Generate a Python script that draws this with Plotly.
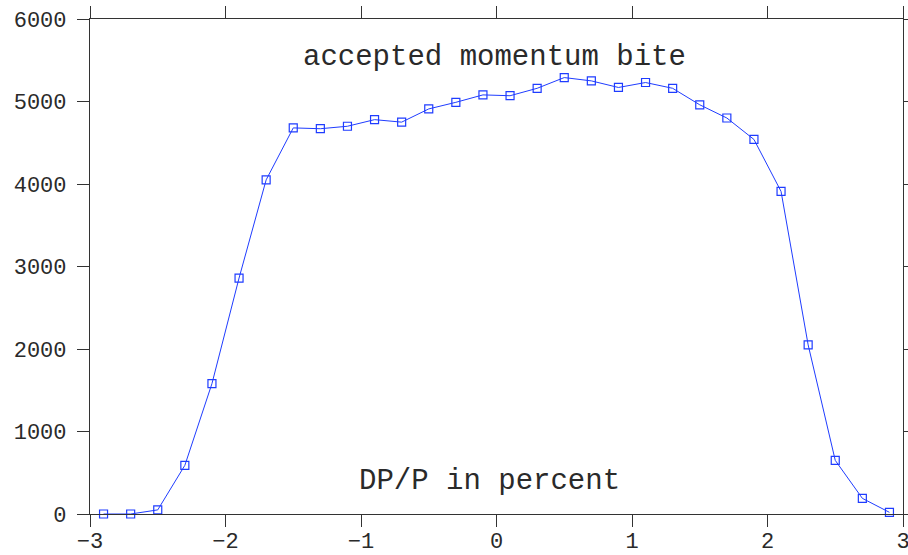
import plotly.graph_objects as go

# Momentum offset bins (DP/P, percent) and accepted counts per bin
dp_percent = [-2.9, -2.7, -2.5, -2.3, -2.1, -1.9, -1.7, -1.5, -1.3, -1.1,
              -0.9, -0.7, -0.5, -0.3, -0.1, 0.1, 0.3, 0.5, 0.7, 0.9,
              1.1, 1.3, 1.5, 1.7, 1.9, 2.1, 2.3, 2.5, 2.7, 2.9]
accepted = [0, 0, 50, 590, 1580, 2860, 4050, 4680, 4670, 4700,
            4780, 4750, 4910, 4990, 5080, 5070, 5160, 5290, 5250, 5170,
            5230, 5160, 4960, 4800, 4540, 3910, 2050, 650, 190, 20]

x_ticks = [-3, -2, -1, 0, 1, 2, 3]
y_ticks = [0, 1000, 2000, 3000, 4000, 5000, 6000]

TEXT_FONT = "Liberation Mono"
TEXT_COLOR = "#2a2a2a"
AXIS_COLOR = "#333333"

fig = go.Figure()
fig.add_trace(go.Scatter(
    x=dp_percent, y=accepted,
    mode="lines+markers",
    line=dict(color="#1f3cff", width=1),
    marker=dict(symbol="square-open", size=8, color="#1f3cff",
                line=dict(width=1.2, color="#1f3cff")),
    showlegend=False,
    cliponaxis=False,
))

axis_common = dict(
    showline=True, linecolor=AXIS_COLOR, linewidth=1.2,
    mirror="allticks", ticks="outside", ticklen=12, tickwidth=1.2,
    tickcolor=AXIS_COLOR, showgrid=False, zeroline=False,
    automargin=False, ticklabeloverflow="allow",
    tickfont=dict(family=TEXT_FONT, size=22, color=TEXT_COLOR),
)

fig.update_xaxes(range=[-3, 3], tickvals=x_ticks,
                 ticktext=[str(v).replace("-", "\u2212") for v in x_ticks],
                 ticklabelstandoff=-6, **axis_common)
fig.update_yaxes(range=[0, 6000], tickvals=y_ticks,
                 ticktext=[str(v) for v in y_ticks],
                 ticklabelstandoff=6, **axis_common)

fig.add_annotation(text="accepted momentum bite", xref="paper", yref="paper",
                   x=0.498, y=0.923, xanchor="center", yanchor="middle",
                   showarrow=False,
                   font=dict(family=TEXT_FONT, size=29, color=TEXT_COLOR))
fig.add_annotation(text="DP/P in percent", xref="paper", yref="paper",
                   x=0.492, y=0.066, xanchor="center", yanchor="middle",
                   showarrow=False,
                   font=dict(family=TEXT_FONT, size=29, color=TEXT_COLOR))

fig.update_layout(
    width=908, height=555,
    margin=dict(l=90, r=5, t=19, b=41),
    paper_bgcolor="white", plot_bgcolor="white",
)

fig.write_html("out.html")
